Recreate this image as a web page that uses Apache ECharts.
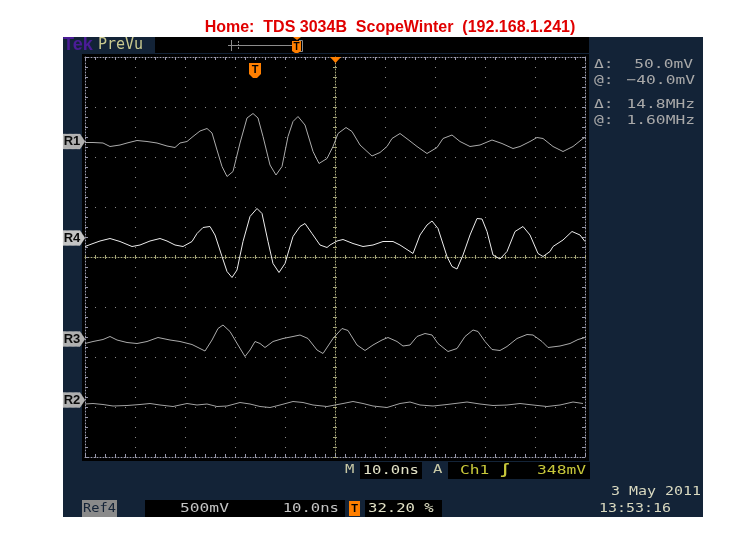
<!DOCTYPE html>
<html><head><meta charset="utf-8">
<script src="https://cdn.jsdelivr.net/npm/echarts/dist/echarts.min.js"></script>
<style>html,body{margin:0;padding:0;background:#fff}#c{width:747px;height:536px}</style>
</head><body><div id="c"></div>
<script>
// ---- data (time in ns, amplitude in screen divisions) ----
const timeR1 = [0,1.6,3.6,5.0,7.0,8.4,10.4,12.4,14.4,16.4,18.0,19.0,20.4,21.6,23.0,24.4,25.4,26.4,27.4,28.4,29.6,31.0,32.4,33.6,34.6,35.6,37.0,38.2,39.4,40.6,41.6,42.6,44.0,45.6,46.8,48.4,49.6,50.6,52.2,53.4,55.0,57.4,59.0,60.4,61.4,63.0,64.6,66.4,68.4,70.4,71.6,73.4,75.0,77.0,79.0,81.4,83.4,85.6,87.0,89.0,90.4,91.6,93.6,95.6,97.6,99.6,100];
const valR1 = [2.29,2.29,2.28,2.21,2.24,2.28,2.33,2.31,2.28,2.22,2.19,2.28,2.31,2.41,2.52,2.57,2.48,2.14,1.81,1.61,1.71,2.28,2.78,2.87,2.78,2.41,1.84,1.64,1.81,2.41,2.71,2.81,2.64,2.11,1.87,1.97,2.21,2.47,2.59,2.51,2.24,2.02,2.09,2.21,2.37,2.47,2.35,2.21,2.07,2.19,2.37,2.44,2.31,2.21,2.24,2.34,2.27,2.17,2.21,2.31,2.39,2.37,2.21,2.11,2.21,2.37,2.39];

const timeR4 = [0,1.6,3.0,5.0,7.0,9.4,11.0,13.0,15.0,16.4,18.0,19.6,21.4,22.4,23.6,25.0,26.0,27.4,28.4,29.4,30.4,31.6,33.0,34.4,35.4,36.6,37.6,38.8,40.0,41.6,43.0,44.0,45.4,47.0,48.4,49.0,50.4,51.6,53.6,55.6,57.6,59.6,61.6,63.0,65.0,65.6,67.0,68.4,69.4,70.6,72.4,73.4,74.4,75.6,77.0,78.4,79.4,80.4,81.6,83.0,84.4,86.0,87.6,89.0,90.6,91.6,93.0,93.6,95.6,97.4,99.0,100];
const valR4 = [0.21,0.27,0.32,0.37,0.31,0.21,0.24,0.32,0.37,0.32,0.24,0.21,0.31,0.47,0.59,0.61,0.44,0.01,-0.29,-0.41,-0.26,0.31,0.81,0.97,0.87,0.31,-0.13,-0.31,-0.13,0.41,0.61,0.67,0.47,0.24,0.19,0.24,0.32,0.35,0.27,0.21,0.24,0.31,0.31,0.24,0.11,0.07,0.44,0.64,0.72,0.57,0.01,-0.19,-0.24,0.04,0.44,0.77,0.76,0.51,0.04,-0.04,0.11,0.51,0.61,0.44,0.07,0.01,0.11,0.21,0.34,0.51,0.44,0.31];

const timeR3 = [0,1.6,3.6,5.0,6.4,8.4,10.4,12.4,14.6,17.0,19.0,21.4,23.0,24.0,25.4,26.6,27.6,29.0,30.6,32.0,33.0,34.0,35.0,36.0,37.6,39.6,41.6,43.0,44.6,46.4,47.6,48.0,49.6,51.4,52.6,54.4,56.0,57.6,59.4,60.6,62.4,63.6,65.0,66.4,68.0,69.4,70.6,72.6,74.4,76.0,77.6,78.6,80.0,81.4,83.0,84.4,86.4,88.4,89.6,91.4,92.6,95.0,97.0,98.6,100];
const valR3 = [-1.73,-1.69,-1.65,-1.59,-1.66,-1.71,-1.73,-1.69,-1.61,-1.66,-1.69,-1.75,-1.83,-1.88,-1.66,-1.43,-1.36,-1.49,-1.76,-1.99,-1.86,-1.69,-1.73,-1.81,-1.69,-1.63,-1.59,-1.56,-1.63,-1.86,-1.93,-1.93,-1.63,-1.43,-1.47,-1.76,-1.87,-1.76,-1.66,-1.61,-1.69,-1.78,-1.76,-1.59,-1.53,-1.56,-1.73,-1.89,-1.83,-1.59,-1.46,-1.49,-1.69,-1.85,-1.87,-1.79,-1.63,-1.55,-1.56,-1.69,-1.81,-1.78,-1.73,-1.65,-1.61];

const timeR2 = [0,1.6,3.6,5.6,8.4,11.0,13.0,15.0,17.6,20.4,22.4,24.4,26.4,28.4,31.0,33.0,35.0,37.0,39.0,41.6,43.6,45.6,48.4,51.6,53.6,55.6,57.6,60.4,63.0,65.0,67.0,69.6,72.4,76.4,79.0,81.6,84.4,87.0,89.6,92.4,95.0,97.6,99.6];
const valR2 = [-2.94,-2.93,-2.95,-2.98,-2.97,-2.95,-2.93,-2.96,-2.99,-2.93,-2.96,-2.94,-2.99,-2.98,-2.91,-2.94,-2.99,-3.01,-2.96,-2.89,-2.91,-2.96,-2.99,-2.93,-2.89,-2.93,-2.98,-3.01,-2.93,-2.90,-2.96,-2.98,-2.95,-2.90,-2.94,-2.97,-2.96,-2.93,-2.96,-2.99,-2.96,-2.90,-2.93];

const refNames = ['R1','R4','R3','R2'];
const refLevels = [2.31, 0.38, -1.64, -2.86];

const titleText = 'Home:  TDS 3034B  ScopeWinter  (192.168.1.241)';
const readoutLabels = ['\u0394:', '@:', '\u0394:', '@:'];
const readoutValues = ['50.0mV', '\u221240.0mV', '14.8MHz', '1.60MHz'];

// ---- chart ----
const chart = echarts.init(document.getElementById('c'), null, {renderer: 'canvas'});

const GRID = '#8a8a8a', CENTER = '#a6a67a', BORDER = '#9a9aae';
const MONO = '"DejaVu Sans Mono", monospace';

function zip(t, v) { return t.map((x, i) => [x, v[i]]); }

function tickAxisX(extra) {
  return Object.assign({
    type: 'value', min: 0, max: 100, interval: 10, gridIndex: 0,
    axisLabel: {show: false}, splitLine: {show: false},
    axisLine: {show: true, onZero: false, lineStyle: {color: BORDER, type: [1, 2], width: 1}},
    axisTick: {show: true, inside: true, length: 3, lineStyle: {color: BORDER}},
    minorTick: {show: true, splitNumber: 5, length: 3, lineStyle: {color: BORDER}},
    minorSplitLine: {show: false}
  }, extra);
}
function tickAxisY(extra) {
  return Object.assign({
    type: 'value', min: -4, max: 4, interval: 1, gridIndex: 0,
    axisLabel: {show: false}, splitLine: {show: false},
    axisLine: {show: true, onZero: false, lineStyle: {color: BORDER, type: [1, 2], width: 1}},
    axisTick: {show: true, inside: true, length: 3, lineStyle: {color: BORDER}},
    minorTick: {show: true, splitNumber: 5, length: 3, lineStyle: {color: BORDER}},
    minorSplitLine: {show: false}
  }, extra);
}
const centerLine = {show: true, onZero: true, lineStyle: {color: CENTER, type: [1, 2], width: 1}};
const centerTick = {show: true, inside: true, length: 2, lineStyle: {color: CENTER}};
const centerMinor = {show: true, splitNumber: 5, length: 2, lineStyle: {color: CENTER}};

function txt(text, x, y, fill, size, align, sx, weight, family) {
  return {
    type: 'text', x: x, y: y, z: 50, scaleX: sx || 1,
    style: {
      text: text, fill: fill,
      font: (weight || 'normal') + ' ' + size + 'px ' + (family || MONO),
      textAlign: align || 'left', align: align || 'left',
      textVerticalAlign: 'middle', verticalAlign: 'middle'
    }
  };
}
function rect(x, y, w, h, fill, z) {
  return {type: 'rect', z: z === undefined ? -5 : z, shape: {x: x, y: y, width: w, height: h}, style: {fill: fill}};
}

const traceColors = {R1: '#ababab', R4: '#ececec', R3: '#ababab', R2: '#a3a3a3'};
const traceData = {R1: zip(timeR1, valR1), R4: zip(timeR4, valR4), R3: zip(timeR3, valR3), R2: zip(timeR2, valR2)};

const series = refNames.map((name, i) => ({
  name: name, type: 'line', xAxisIndex: 0, yAxisIndex: 0,
  data: traceData[name], showSymbol: false, smooth: false, z: 10,
  lineStyle: {color: traceColors[name], width: 1},
  markPoint: {
    silent: true, animation: false,
    symbol: 'path://M0,0L17,0L22,7.5L17,15L0,15Z', symbolSize: [22, 15], symbolOffset: [-11, 0],
    symbolKeepAspect: false,
    itemStyle: {color: name === 'R4' ? '#c4c4c4' : '#b0b0b0', borderColor: '#d8d8d8', borderWidth: 0.5, borderType: 'dotted'},
    label: {show: true, position: 'inside', offset: [-2, 0], formatter: name, color: '#0a0a0a',
            fontSize: 13, fontWeight: 'bold', fontFamily: 'Liberation Sans Narrow, "Liberation Sans", sans-serif'},
    data: [{coord: [0, refLevels[i]]}]
  }
}));

const graphics = [
  rect(63, 37, 640, 480, '#132337', -10),
  rect(82, 54, 507, 407, '#000000', -6),
  rect(155, 37, 434, 16, '#000000', -6),
  // record-view bar
  {type: 'line', z: 40, shape: {x1: 228, y1: 45.5, x2: 301, y2: 45.5}, style: {stroke: '#8c8c8c', lineWidth: 1}},
  {type: 'line', z: 40, shape: {x1: 231.5, y1: 40, x2: 231.5, y2: 51}, style: {stroke: '#8c8c8c', lineWidth: 1}},
  {type: 'line', z: 40, shape: {x1: 238.5, y1: 41, x2: 238.5, y2: 50}, style: {stroke: '#8c8c8c', lineWidth: 1, lineDash: [2, 1]}},
  {type: 'polyline', z: 40, shape: {points: [[299, 40.5], [302.5, 40.5], [302.5, 51.5], [299, 51.5]]}, style: {stroke: '#8c8c8c', lineWidth: 1, fill: null}},
  {type: 'polygon', z: 41, shape: {points: [[292, 41], [301, 41], [301, 51], [298, 53], [295, 53], [292, 51]]}, style: {fill: '#ff7f00'}},
  {type: 'polygon', z: 41, shape: {points: [[293, 37], [301, 37], [297, 40]]}, style: {fill: '#ff7f00'}},
  txt('T', 296.5, 47, '#000', 10, 'center', 1, 'bold', '"Liberation Sans", sans-serif'),
  // Tek logo and PreVu
  txt('Tek', 63, 45, '#4b1c97', 19, 'left', 0.95, 'bold', '"Liberation Sans", sans-serif'),
  txt('PreVu', 98, 45, '#c9c98f', 15, 'left', 1),
  // trigger position marker in graticule
  {type: 'polygon', z: 41, shape: {points: [[249, 63], [261, 63], [261, 74], [257, 78], [253, 78], [249, 74]]}, style: {fill: '#ff7f00'}},
  txt('T', 255, 70, '#000', 11, 'center', 1, 'bold', '"Liberation Sans", sans-serif'),
  // expansion point triangle
  {type: 'polygon', z: 41, shape: {points: [[330, 57], [341, 57], [335.5, 63]]}, style: {fill: '#ff7f00'}},
  // right readouts
  txt(readoutLabels[0], 594, 65, '#a9a9a9', 13, 'left', 1.25),
  txt(readoutValues[0], 693, 65, '#a9a9a9', 13, 'right', 1.25),
  txt(readoutLabels[1], 594, 81, '#a9a9a9', 13, 'left', 1.25),
  txt(readoutValues[1], 695, 81, '#a9a9a9', 13, 'right', 1.25),
  txt(readoutLabels[2], 594, 105, '#a9a9a9', 13, 'left', 1.25),
  txt(readoutValues[2], 695, 105, '#a9a9a9', 13, 'right', 1.25),
  txt(readoutLabels[3], 594, 121, '#a9a9a9', 13, 'left', 1.25),
  txt(readoutValues[3], 695, 121, '#a9a9a9', 13, 'right', 1.25),
  // M row
  txt('M', 345, 470, '#c9c9a6', 13, 'left', 1.2),
  rect(360, 462, 62, 17, '#000000', -4),
  txt('10.0ns', 419, 470.5, '#e2e2c6', 13, 'right', 1.2),
  txt('A', 433, 470, '#c9c9a6', 13, 'left', 1.2),
  rect(448, 462, 142, 17, '#000000', -4),
  txt('Ch1', 460, 470.5, '#c8c83a', 13, 'left', 1.25),
  txt('\u0283', 505, 470.5, '#c8c83a', 14, 'center', 1.1, 'bold'),
  txt('348mV', 586, 470.5, '#c8c83a', 13, 'right', 1.25),
  // bottom row
  rect(82, 500, 35, 17, '#8a8a8a', -4),
  txt('Ref4', 99.5, 508.5, '#142337', 13, 'center', 1.05),
  rect(145, 500, 200, 17, '#000000', -4),
  txt('500mV', 180, 508.5, '#c4c4c4', 13, 'left', 1.25),
  txt('10.0ns', 339, 508.5, '#c4c4c4', 13, 'right', 1.2),
  rect(349, 501, 11, 15, '#ff7f00', -3),
  txt('T', 354.5, 508.5, '#000', 11, 'center', 1, 'bold', '"Liberation Sans", sans-serif'),
  rect(365, 500, 77, 17, '#000000', -4),
  txt('32.20 %', 368, 508.5, '#e2e2c6', 13, 'left', 1.2),
  txt('3 May 2011', 701, 492, '#d9d9c0', 13, 'right', 1.15),
  txt('13:53:16', 671, 508.5, '#d9d9c0', 13, 'right', 1.15)
];

const option = {
  backgroundColor: '#ffffff',
  animation: false,
  title: {
    text: titleText, left: 385, top: 15, textAlign: 'center',
    textStyle: {color: '#e00000', fontSize: 16, fontWeight: 'bold', fontFamily: '"Liberation Sans", Arial, sans-serif'}
  },
  grid: {left: 85, top: 57, width: 500, height: 400, containLabel: false},
  xAxis: [
    {type: 'value', min: 0, max: 100, interval: 10,
     axisLabel: {show: false}, axisTick: {show: false}, axisLine: {show: false},
     splitLine: {show: true, lineStyle: {color: GRID, type: [1, 9], width: 1}}},
    tickAxisX({position: 'bottom', axisLine: Object.assign({}, centerLine), axisTick: centerTick, minorTick: centerMinor}),
    tickAxisX({position: 'bottom', axisLine: {show: false, onZero: true}, axisTick: Object.assign({}, centerTick, {inside: false}), minorTick: centerMinor}),
    tickAxisX({position: 'bottom'}),
    tickAxisX({position: 'top'})
  ],
  yAxis: [
    {type: 'value', min: -4, max: 4, interval: 1,
     axisLabel: {show: false}, axisTick: {show: false}, axisLine: {show: false},
     splitLine: {show: true, lineStyle: {color: GRID, type: [1, 9], width: 1}}},
    tickAxisY({position: 'left', offset: -250, axisLine: {show: true, onZero: false, lineStyle: {color: CENTER, type: [1, 2], width: 1}}, axisTick: centerTick, minorTick: centerMinor}),
    tickAxisY({position: 'left', offset: -250, axisLine: {show: false, onZero: false}, axisTick: Object.assign({}, centerTick, {inside: false}), minorTick: centerMinor}),
    tickAxisY({position: 'left'}),
    tickAxisY({position: 'right'})
  ],
  series: series,
  graphic: {elements: graphics}
};
chart.setOption(option);
</script>
</body></html>
